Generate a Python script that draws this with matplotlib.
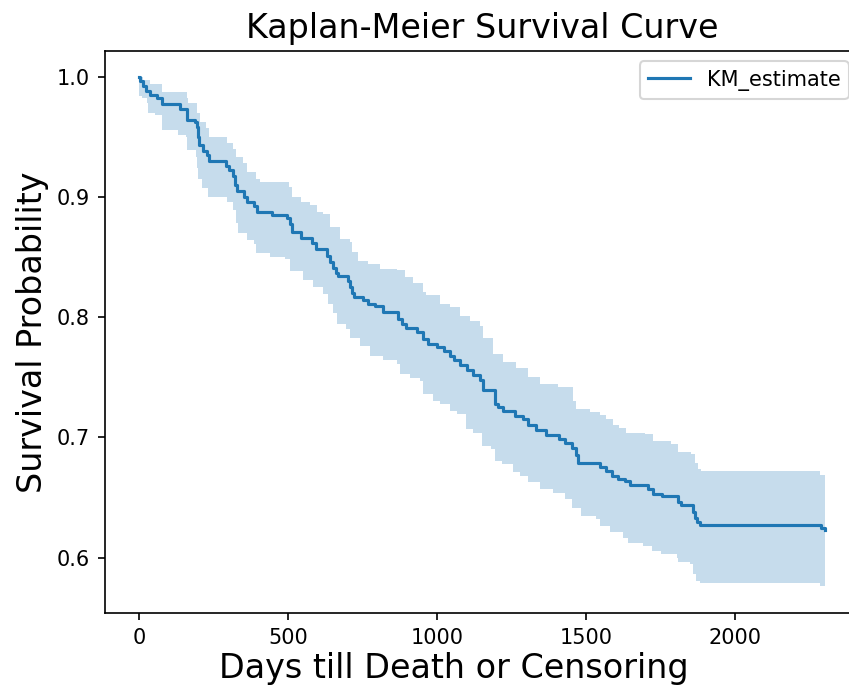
import matplotlib
matplotlib.use('Agg')
import matplotlib.pyplot as plt
import numpy as np

# Kaplan-Meier estimate (time, survival after step)
km_t = [0, 5, 12, 22, 37, 59, 76, 137, 162, 188, 194, 198, 202, 216, 229, 236,
        293, 303, 317, 323, 329, 352, 361, 386, 397, 445, 496, 507, 514, 545,
        579, 595, 630, 640, 651, 661, 669, 701, 708, 715, 721, 751, 769, 791,
        819, 870, 882, 897, 932, 953, 970, 998, 1022, 1043, 1058, 1078, 1099,
        1121, 1143, 1154, 1193, 1203, 1222, 1261, 1289, 1305, 1333, 1366, 1410,
        1428, 1451, 1465, 1473, 1546, 1568, 1585, 1607, 1629, 1646, 1707, 1724,
        1753, 1808, 1819, 1858, 1865, 1870, 1880, 2289, 2300]
km_s = [1.0, 0.996, 0.992, 0.988, 0.985, 0.982, 0.977, 0.973, 0.964, 0.962,
        0.958, 0.950, 0.943, 0.938, 0.935, 0.930, 0.926, 0.922, 0.917, 0.910,
        0.905, 0.900, 0.896, 0.892, 0.887, 0.885, 0.882, 0.877, 0.871, 0.866,
        0.862, 0.857, 0.851, 0.846, 0.841, 0.837, 0.834, 0.830, 0.825, 0.820,
        0.817, 0.814, 0.811, 0.809, 0.804, 0.798, 0.794, 0.791, 0.788, 0.782,
        0.778, 0.775, 0.772, 0.768, 0.764, 0.760, 0.756, 0.752, 0.748, 0.739,
        0.728, 0.725, 0.722, 0.718, 0.715, 0.710, 0.706, 0.702, 0.699, 0.695,
        0.691, 0.685, 0.679, 0.675, 0.672, 0.668, 0.6655, 0.664, 0.6605, 0.657,
        0.653, 0.651, 0.646, 0.644, 0.638, 0.633, 0.630, 0.627, 0.6245, 0.623]

# 95% confidence interval, upper bound
up_t = [0, 14, 37, 78, 160, 165, 196, 205, 225, 236, 296, 314, 325, 350, 361,
        394, 406, 503, 512, 545, 573, 596, 618, 640, 674, 707, 713, 735, 769,
        808, 864, 892, 920, 953, 964, 1009, 1043, 1076, 1110, 1143, 1154, 1188,
        1221, 1266, 1305, 1344, 1406, 1456, 1467, 1512, 1545, 1568, 1590, 1610,
        1635, 1696, 1724, 1786, 1808, 1853, 1864, 1875, 1886, 2283, 2300]
up_s = [1.0, 0.997, 0.994, 0.9875, 0.982, 0.978, 0.970, 0.9625, 0.957, 0.950,
        0.9445, 0.940, 0.933, 0.928, 0.921, 0.915, 0.9125, 0.908, 0.900, 0.896,
        0.893, 0.8875, 0.886, 0.875, 0.865, 0.8625, 0.854, 0.847, 0.8445, 0.840,
        0.839, 0.833, 0.828, 0.821, 0.818, 0.811, 0.808, 0.801, 0.797, 0.7925,
        0.783, 0.7695, 0.7625, 0.758, 0.750, 0.7445, 0.742, 0.7305, 0.724, 0.721,
        0.719, 0.715, 0.710, 0.708, 0.704, 0.703, 0.697, 0.6945, 0.6875, 0.686,
        0.679, 0.6735, 0.672, 0.669, 0.669]

# 95% confidence interval, lower bound
lo_t = [0, 9, 26, 31, 54, 76, 132, 158, 160, 190, 196, 199, 210, 232, 296, 316,
        325, 333, 361, 386, 394, 439, 489, 506, 551, 584, 618, 635, 650, 663,
        696, 707, 741, 774, 819, 864, 875, 908, 942, 953, 987, 1009, 1043, 1065,
        1098, 1121, 1149, 1182, 1193, 1216, 1255, 1277, 1305, 1344, 1389, 1428,
        1451, 1484, 1534, 1545, 1579, 1624, 1640, 1691, 1719, 1752, 1803, 1808,
        1847, 1858, 1869, 1880, 2283, 2300]
lo_s = [0.984, 0.982, 0.978, 0.9695, 0.968, 0.9555, 0.9515, 0.950, 0.939, 0.933,
        0.924, 0.915, 0.907, 0.900, 0.896, 0.889, 0.878, 0.8695, 0.864, 0.861,
        0.853, 0.850, 0.848, 0.838, 0.8305, 0.825, 0.8195, 0.811, 0.803, 0.7945,
        0.790, 0.783, 0.776, 0.768, 0.764, 0.761, 0.753, 0.749, 0.747, 0.736,
        0.7305, 0.728, 0.722, 0.7195, 0.707, 0.704, 0.693, 0.690, 0.680, 0.678,
        0.671, 0.668, 0.6625, 0.657, 0.654, 0.6485, 0.6415, 0.635, 0.632, 0.6265,
        0.621, 0.6167, 0.6125, 0.610, 0.6055, 0.603, 0.600, 0.596, 0.5945, 0.586,
        0.5805, 0.579, 0.5765, 0.575]


def step_path(t, s):
    # vertices of a post-step line
    t = np.asarray(t, float)
    s = np.asarray(s, float)
    return np.repeat(t, 2)[1:], np.repeat(s, 2)[:-1]


fig = plt.figure(figsize=(849 / 150, 685 / 150), dpi=150)
ax = fig.add_axes([0.1233, 0.1047, 0.8885, 0.8209])

xu, yu = step_path(up_t, up_s)
xl, yl = step_path(lo_t, lo_s)
ax.fill(np.r_[xu, xl[::-1]], np.r_[yu, yl[::-1]], color='C0', alpha=0.25, lw=0)
ax.step(km_t, km_s, where='post', color='C0', lw=1.5, label='KM_estimate')

ax.set_title('Kaplan-Meier Survival Curve', fontsize=16)
ax.set_xlabel('Days till Death or Censoring', fontsize=16, x=0.463, labelpad=2)
ax.set_ylabel('Survival Probability', fontsize=16)
ax.set_xticks([0, 500, 1000, 1500, 2000])
ax.set_yticks([0.6, 0.7, 0.8, 0.9, 1.0])
ax.legend(loc='upper right')

fig.savefig('out.png', dpi=150)
